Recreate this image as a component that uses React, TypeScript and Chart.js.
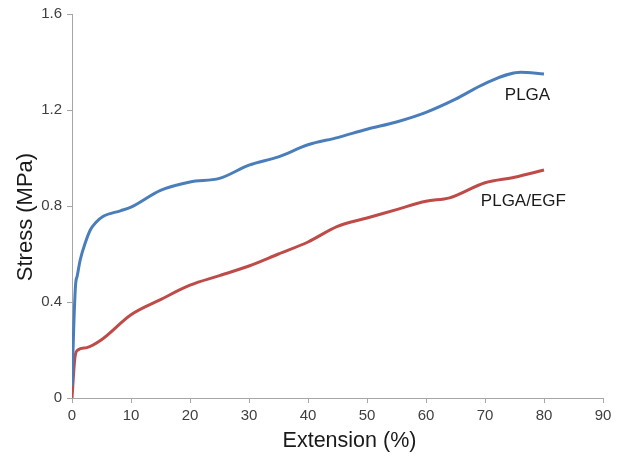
import React, { useEffect, useRef } from "react";
import { Chart, registerables } from "chart.js";

Chart.register(...registerables);

const plgaX = [0, 0.3, 0.6, 0.9, 1.4, 2.3, 3.1, 4, 5.3, 8.2, 10, 15, 20, 25, 30, 35, 40, 45, 50, 55, 60, 65, 70, 76, 80];
const plgaY = [0.05, 0.3, 0.47, 0.51, 0.576, 0.65, 0.7, 0.73, 0.757, 0.78, 0.795, 0.865, 0.9, 0.915, 0.97, 1.005, 1.055, 1.085, 1.12, 1.15, 1.19, 1.245, 1.31, 1.357, 1.35];

const egfX = [0, 0.5, 1, 2.5, 5, 10, 15, 20, 25, 30, 35, 40, 45, 50, 55, 60, 64, 70, 75, 80];
const egfY = [0, 0.17, 0.2, 0.21, 0.243, 0.347, 0.41, 0.47, 0.51, 0.55, 0.6, 0.65, 0.715, 0.75, 0.785, 0.82, 0.834, 0.897, 0.92, 0.95];

const xTicks = [0, 10, 20, 30, 40, 50, 60, 70, 80, 90];
const yTicks = [0, 0.4, 0.8, 1.2, 1.6];

const seriesLabels = ["PLGA", "PLGA/EGF"];
const labelPos = [
  { x: 77.2, y: 1.26 },
  { x: 76.5, y: 0.82 },
];
const xTitle = "Extension (%)";
const yTitle = "Stress (MPa)";

const FONT = "'Liberation Sans', Arial, sans-serif";

export default function App() {
  const ref = useRef<HTMLCanvasElement | null>(null);

  useEffect(() => {
    document.body.style.margin = "0";
    const ctx = ref.current!.getContext("2d")!;
    const textPlugin = {
      id: "seriesText",
      afterDatasetsDraw(chart: any) {
        const c = chart.ctx;
        const xs = chart.scales.x;
        const ys = chart.scales.y;
        const area = chart.chartArea;
        c.save();
        c.font = `17px ${FONT}`;
        c.fillStyle = "#1a1a1a";
        c.textAlign = "center";
        c.textBaseline = "middle";
        seriesLabels.forEach((t, i) => {
          c.fillText(t, xs.getPixelForValue(labelPos[i].x), ys.getPixelForValue(labelPos[i].y));
        });
        // axis titles
        c.font = `21.5px ${FONT}`;
        c.fillText(xTitle, (area.left + area.right) / 2 + 12, chart.height - 17);
        c.translate(26, (area.top + area.bottom) / 2 + 11);
        c.rotate(-Math.PI / 2);
        c.font = `22px ${FONT}`;
        c.fillText(yTitle, 0, 0);
        c.restore();
      },
    };
    const chart = new Chart(ctx, {
      type: "line",
      data: {
        datasets: [
          {
            label: seriesLabels[0],
            data: plgaX.map((x, i) => ({ x, y: plgaY[i] })),
            borderColor: "#4a7ebb",
            borderWidth: 3,
            pointRadius: 0,
            cubicInterpolationMode: "monotone",
            fill: false,
          },
          {
            label: seriesLabels[1],
            data: egfX.map((x, i) => ({ x, y: egfY[i] })),
            borderColor: "#be4b48",
            borderWidth: 3,
            pointRadius: 0,
            cubicInterpolationMode: "monotone",
            fill: false,
          },
        ],
      },
      options: {
        animation: false,
        responsive: false,
        layout: { padding: { top: 14, right: 16, bottom: 0, left: 0 } },
        plugins: { legend: { display: false }, tooltip: { enabled: false } },
        scales: {
          x: {
            type: "linear",
            min: 0,
            max: 90,
            afterBuildTicks: (s: any) => {
              s.ticks = xTicks.map((v) => ({ value: v }));
            },
            afterFit: (s: any) => {
              s.height = 60;
            },
            ticks: {
              font: { family: FONT, size: 15 },
              color: "#404040",
              padding: 4,
              maxRotation: 0,
              callback: (v: any) => String(v),
            },
            grid: { drawOnChartArea: false, tickLength: 5, color: "#a6a6a6", lineWidth: 1 },
            border: { color: "#a6a6a6", width: 1 },
            title: { display: false },
          },
          y: {
            type: "linear",
            min: 0,
            max: 1.6,
            afterBuildTicks: (s: any) => {
              s.ticks = yTicks.map((v) => ({ value: v }));
            },
            afterFit: (s: any) => {
              s.width = 72;
            },
            ticks: {
              font: { family: FONT, size: 15 },
              color: "#404040",
              padding: 5,
              callback: (v: any) => String(Math.round(v * 10) / 10),
            },
            grid: { drawOnChartArea: false, tickLength: 5, color: "#a6a6a6", lineWidth: 1 },
            border: { color: "#a6a6a6", width: 1 },
            title: { display: false },
          },
        },
      },
      plugins: [textPlugin],
    } as any);
    return () => chart.destroy();
  }, []);

  return (
    <div style={{ position: "absolute", left: 0, top: 0, width: 619, height: 458, background: "#fff" }}>
      <canvas ref={ref} width={619} height={458} style={{ width: 619, height: 458 }} />
    </div>
  );
}
